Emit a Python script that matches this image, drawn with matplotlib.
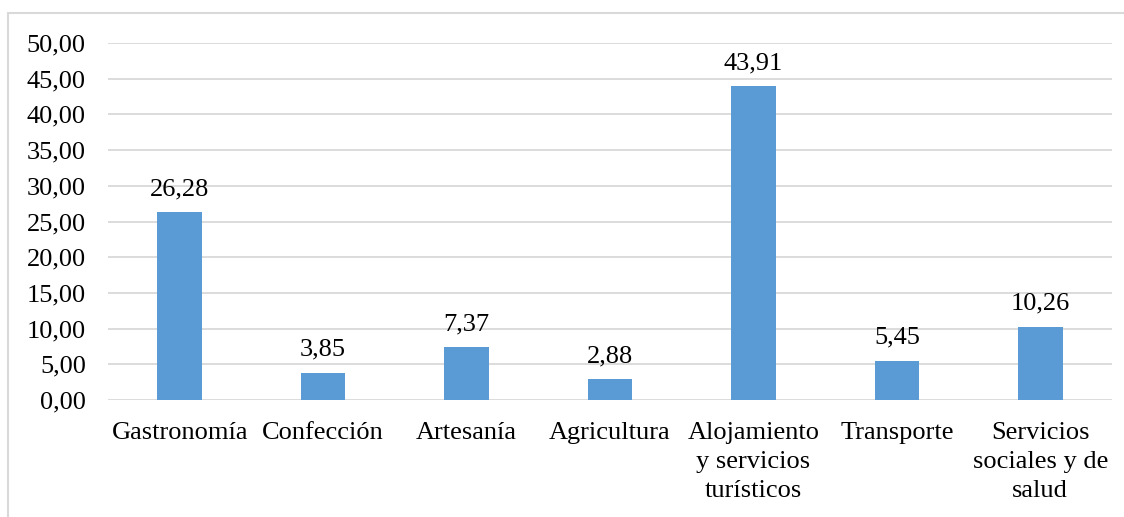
import matplotlib
matplotlib.use("Agg")
import matplotlib.pyplot as plt
from matplotlib.patches import Rectangle
from matplotlib.ticker import FuncFormatter

categories = ["Gastronomía", "Confección", "Artesanía", "Agricultura",
              "Alojamiento\ny servicios\nturísticos", "Transporte",
              "Servicios\nsociales y de\nsalud"]
values = [26.28, 3.85, 7.37, 2.88, 43.91, 5.45, 10.26]
yticks = [0, 5, 10, 15, 20, 25, 30, 35, 40, 45, 50]

W, H = 1124, 517
plt.rcParams["font.family"] = ["Liberation Serif", "DejaVu Serif"]
plt.rcParams["font.size"] = 19

fig = plt.figure(figsize=(W / 100, H / 100), dpi=100)
ax = fig.add_axes([108 / W, 1 - 400 / H, (1112 - 108) / W, (400 - 43) / H])

# outer chart border (cut off at right and bottom in the reference)
fig.patches.append(Rectangle((8 / W, -0.05), 1.2, 1 - 13 / H + 0.05,
                             transform=fig.transFigure, fill=False,
                             edgecolor="#d9d9d9", linewidth=1.5))

x = range(len(categories))
ax.bar(x, values, width=0.31, color="#5b9bd5", zorder=3)
for xi, v in zip(x, values):
    ax.text(xi, v + 1.7, f"{v:.2f}".replace(".", ","), ha="center", va="bottom")

ax.set_xlim(-0.5, len(categories) - 0.5)
ax.set_ylim(0, 50)
ax.set_yticks(yticks)
ax.yaxis.set_major_formatter(FuncFormatter(lambda v, _: f"{v:.2f}".replace(".", ",")))
ax.set_xticks(list(x))
ax.set_xticklabels(categories, linespacing=1.4, va="top")
ax.tick_params(length=0, pad=16)
ax.tick_params(axis="y", pad=16)
ax.grid(axis="y", color="#d9d9d9", linewidth=1.3, zorder=0)
for s in ax.spines.values():
    s.set_visible(False)

fig.savefig("out.png", dpi=100)
